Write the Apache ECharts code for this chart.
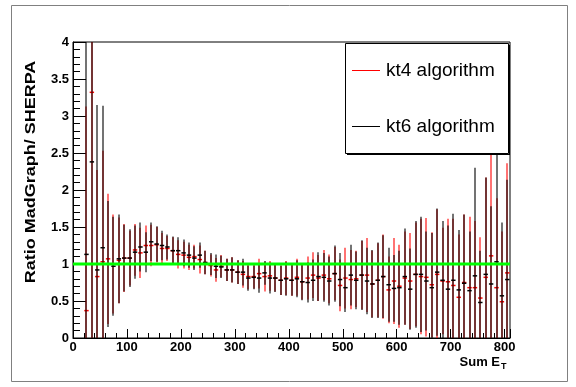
<!DOCTYPE html>
<html>
<head>
<meta charset="utf-8">
<script src="https://cdn.jsdelivr.net/npm/echarts@6/dist/echarts.min.js"></script>
<style>
html,body{margin:0;padding:0;background:#fff;}
#chart{width:576px;height:387px;}
</style>
</head>
<body>
<div id="chart"></div>
<script>
// Bin centres (Sum E_T)
const binCenters = [25,35,45,55,65,75,85,95,105,115,125,135,145,155,165,175,185,195,205,215,225,235,245,255,265,275,285,295,305,315,325,335,345,355,365,375,385,395,405,415,425,435,445,455,465,475,485,495,505,515,525,535,545,555,565,575,585,595,605,615,625,635,645,655,665,675,685,695,705,715,725,735,745,755,765,775,785,795,805];
// kt4 algorithm ratio and error
const kt4Values = [0.37,3.32,0.83,1.03,1.07,1.00,1.05,1.08,1.08,1.19,1.15,1.25,1.25,1.26,1.21,1.21,1.18,1.13,1.12,1.09,1.10,1.06,1.02,0.98,0.92,0.97,0.92,0.92,0.89,0.86,0.83,0.83,0.87,0.83,0.84,0.81,0.78,0.81,0.78,0.82,0.76,0.81,0.85,0.81,0.85,0.80,0.87,0.71,0.81,0.79,0.80,0.85,0.85,0.73,0.78,0.83,0.65,0.77,0.70,0.81,0.77,0.86,0.83,0.82,0.72,0.86,0.77,0.76,0.71,0.55,0.75,0.68,0.68,0.54,0.82,1.11,0.68,0.49,0.88];
const kt4Errors = [2.76,3.50,1.44,1.50,0.88,0.67,0.58,0.46,0.37,0.35,0.34,0.27,0.28,0.24,0.21,0.17,0.18,0.19,0.18,0.17,0.16,0.19,0.16,0.15,0.16,0.15,0.15,0.17,0.16,0.18,0.17,0.16,0.20,0.20,0.20,0.18,0.20,0.23,0.21,0.25,0.24,0.29,0.31,0.31,0.34,0.33,0.36,0.35,0.41,0.40,0.38,0.46,0.50,0.45,0.50,0.57,0.45,0.58,0.56,0.63,0.65,0.70,0.78,0.80,0.71,0.88,0.72,0.85,0.90,0.85,0.92,0.96,0.90,0.82,1.35,1.70,1.21,0.95,1.48];
// kt6 algorithm ratio and error
const kt6Values = [1.13,2.38,0.92,1.22,1.00,0.97,1.07,1.08,1.08,1.16,1.23,1.16,1.30,1.27,1.25,1.23,1.18,1.18,1.15,1.12,1.08,1.12,1.02,1.00,0.97,0.96,0.92,0.92,0.89,0.89,0.81,0.82,0.81,0.88,0.81,0.81,0.78,0.80,0.78,0.80,0.76,0.75,0.78,0.83,0.82,0.77,0.87,0.79,0.68,0.85,0.78,0.85,0.77,0.73,0.78,0.83,0.72,0.67,0.68,0.83,0.66,0.86,0.86,0.77,0.68,0.89,0.78,0.66,0.78,0.65,0.74,0.64,0.84,0.48,0.86,0.73,1.03,0.57,0.79];
const kt6Errors = [3.20,2.90,2.23,1.92,0.85,0.67,0.60,0.45,0.39,0.36,0.33,0.27,0.26,0.24,0.20,0.17,0.19,0.18,0.18,0.17,0.16,0.17,0.16,0.15,0.16,0.15,0.15,0.17,0.16,0.18,0.17,0.16,0.20,0.16,0.21,0.19,0.20,0.23,0.21,0.25,0.25,0.27,0.28,0.33,0.33,0.33,0.38,0.36,0.33,0.41,0.39,0.47,0.45,0.46,0.51,0.56,0.50,0.45,0.50,0.65,0.55,0.72,0.78,0.67,0.74,0.86,0.80,0.86,0.90,0.81,0.93,0.80,1.46,0.70,1.31,1.05,1.72,0.99,1.35];
const binWidth = 10;
const xTickLabels = ['0','100','200','300','400','500','600','700','800'];
const seriesNames = ['kt4 algorithm','kt6 algorithm'];
const yMin = 0, yMax = 4, xMin = 0, xMax = 810;

function makeData(vals, errs){
  return binCenters.map((c,i)=>[c, vals[i], errs[i]]);
}
function errRender(color, alpha){
  return function(params, api){
    const x = api.value(0), v = api.value(1), e = api.value(2);
    const lo = Math.max(yMin, v - e), hi = Math.min(yMax, v + e);
    const p1 = api.coord([x, lo]), p2 = api.coord([x, hi]);
    const a = api.coord([x - binWidth/2, v]), b = api.coord([x + binWidth/2, v]);
    const px = Math.round(p1[0]);
    return {type:'group', children:[
      {type:'line', shape:{x1:px,y1:p1[1],x2:px,y2:p2[1]}, style:{stroke:color, lineWidth:2, opacity:alpha}},
      {type:'line', shape:{x1:a[0]+0.5,y1:a[1],x2:b[0]-0.5,y2:b[1]}, style:{stroke:color, lineWidth:1.5}}
    ]};
  };
}

const chart = echarts.init(document.getElementById('chart'), null, {renderer:'canvas'});
const bold = {fontFamily:'Liberation Sans, Arial, sans-serif', fontWeight:'bold', fontSize:13, color:'#000'};
chart.setOption({
  animation:false,
  backgroundColor:'#fff',
  grid:{left:73, right:66, top:42, bottom:49, show:true, borderColor:'#000', borderWidth:1, backgroundColor:'transparent'},
  xAxis:{type:'value', min:xMin, max:xMax, interval:100,
    axisLine:{onZero:false, lineStyle:{color:'#000', width:1}},
    axisTick:{inside:true, length:9, lineStyle:{color:'#000'}},
    minorTick:{show:true, splitNumber:5, length:5, lineStyle:{color:'#000'}},
    splitLine:{show:false},
    axisLabel:Object.assign({margin:3, showMaxLabel:false, formatter:function(v){const i=xTickLabels.indexOf(String(v));return i>=0?xTickLabels[i]:'';}}, bold)
  },
  yAxis:{type:'value', min:yMin, max:yMax, interval:0.5,
    axisLine:{show:true, lineStyle:{color:'#000', width:1}},
    axisTick:{show:true, inside:true, length:13, lineStyle:{color:'#000'}},
    minorTick:{show:true, splitNumber:5, length:7, lineStyle:{color:'#000'}},
    splitLine:{show:false},
    axisLabel:Object.assign({margin:4}, bold)
  },
  series:[
    {name:seriesNames[0], type:'custom', renderItem:errRender('#ff0000', 0.55), data:makeData(kt4Values,kt4Errors), encode:{x:0,y:1}, z:2},
    {name:seriesNames[1], type:'custom', renderItem:errRender('#000000', 0.55), data:makeData(kt6Values,kt6Errors), encode:{x:0,y:1}, z:3},
    {name:'ref', type:'line', data:[[xMin,1],[xMax,1]], symbol:'none', lineStyle:{color:'#00ff00', width:3}, z:4, silent:true}
  ],
  graphic:[
    {type:'rect', shape:{x:11.5,y:5.5,width:556,height:376}, style:{fill:'none', stroke:'#808080', lineWidth:1}, silent:true},
    {type:'rect', shape:{x:345.5,y:43.5,width:163,height:110}, style:{fill:'#fff', stroke:'#000', lineWidth:1}, z:10},
    {type:'line', shape:{x1:509.5,y1:45,x2:509.5,y2:155}, style:{stroke:'#000', lineWidth:1}, z:10},
    {type:'line', shape:{x1:347,y1:154.5,x2:510,y2:154.5}, style:{stroke:'#000', lineWidth:1}, z:10},
    {type:'line', shape:{x1:352,y1:70.5,x2:380,y2:70.5}, style:{stroke:'#ff0000', lineWidth:1}, z:11},
    {type:'text', x:386, y:71, style:{text:seriesNames[0], font:'19px Liberation Sans, Arial, sans-serif', fill:'#000', verticalAlign:'middle'}, z:11},
    {type:'line', shape:{x1:352,y1:126.5,x2:380,y2:126.5}, style:{stroke:'#000', lineWidth:1}, z:11},
    {type:'text', x:386, y:127, style:{text:seriesNames[1], font:'19px Liberation Sans, Arial, sans-serif', fill:'#000', verticalAlign:'middle'}, z:11},
    {type:'text', x:31, y:172, rotation:Math.PI/2, scaleX:1.2, style:{text:'Ratio MadGraph/ SHERPA', font:'bold 15px Liberation Sans, Arial, sans-serif', fill:'#000', align:'center', verticalAlign:'middle'}},
    {type:'text', x:500, y:362, style:{text:'Sum E', font:'bold 13px Liberation Sans, Arial, sans-serif', fill:'#000', align:'right', verticalAlign:'middle'}},
    {type:'text', x:501, y:367, style:{text:'T', font:'bold 9px Liberation Sans, Arial, sans-serif', fill:'#000', align:'left', verticalAlign:'middle'}}
  ]
});
</script>
</body>
</html>
